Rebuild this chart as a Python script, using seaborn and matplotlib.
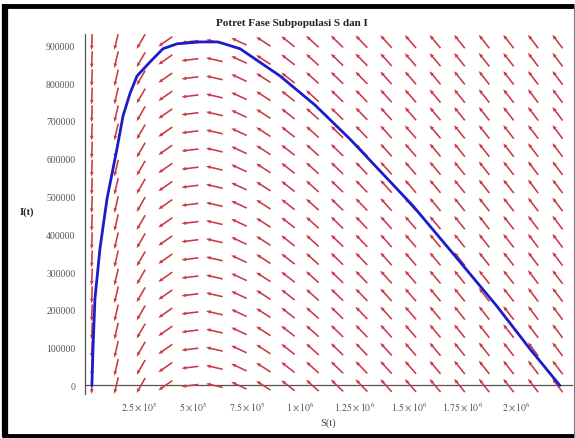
import numpy as np
import pandas as pd
import matplotlib
matplotlib.use("Agg")
import matplotlib.pyplot as plt
from matplotlib.lines import Line2D
import seaborn as sns

# trajectory (S, I)
traj_S = [0.032e6, 0.037e6, 0.046e6, 0.069e6, 0.102e6, 0.125e6, 0.148e6, 0.176e6,
          0.208e6, 0.241e6, 0.301e6, 0.361e6, 0.426e6, 0.532e6, 0.616e6, 0.718e6,
          0.903e6, 1.065e6, 1.227e6, 1.519e6, 1.713e6, 1.907e6, 2.060e6, 2.199e6]
traj_I = [0, 97000, 229000, 361000, 494000, 560000, 626000, 713000,
          772000, 819000, 856000, 891000, 904000, 909000, 909000, 891000,
          819000, 742000, 652000, 475000, 343000, 210000, 97000, 0]

# direction field grid: 20 columns x 20 rows
field_S = [0.032e6, 0.145e6, 0.259e6, 0.372e6, 0.486e6, 0.599e6, 0.713e6, 0.826e6,
           0.940e6, 1.053e6, 1.167e6, 1.280e6, 1.394e6, 1.507e6, 1.621e6, 1.734e6,
           1.848e6, 1.961e6, 2.075e6, 2.188e6]
field_I = [0, 48000, 96000, 144000, 192000, 240000, 287000, 335000, 383000, 431000,
           479000, 527000, 575000, 623000, 671000, 719000, 766000, 814000, 862000, 910000]
# on-screen arrow angle (degrees) for each column, same down each column
col_angle = [268, 257, 240, 215, 187, 167, 155, 147, 142, 138,
             136, 134, 132, 131, 130, 129, 128, 128, 127, 127]

xtick_vals = [2.5e5, 5e5, 7.5e5, 1e6, 1.25e6, 1.5e6, 1.75e6, 2e6]
xtick_labels = [r"$2.5\times10^{5}$", r"$5\times10^{5}$", r"$7.5\times10^{5}$",
                r"$1\times10^{6}$", r"$1.25\times10^{6}$", r"$1.5\times10^{6}$",
                r"$1.75\times10^{6}$", r"$2\times10^{6}$"]
ytick_vals = [0, 100000, 200000, 300000, 400000, 500000, 600000, 700000, 800000, 900000]

sns.set_style("white")
plt.rcParams["font.family"] = ["Liberation Serif", "DejaVu Serif"]
plt.rcParams["mathtext.fontset"] = "stix"

fig = plt.figure(figsize=(5.75, 4.39), dpi=100)
ax = fig.add_axes([85 / 575, 1 - 395 / 439, 487 / 575, 360 / 439])

# arrows
SS, II = np.meshgrid(field_S, field_I)
ang = np.deg2rad(np.tile(col_angle, (len(field_I), 1)))
L = 17
ax.quiver(SS, II, L * np.cos(ang), L * np.sin(ang), angles="uv",
          scale_units="dots", scale=1, units="dots", width=1.6,
          headwidth=2.4, headlength=3, headaxislength=2.7,
          pivot="middle", color="#c93a44", zorder=2)

df = pd.DataFrame({"S": traj_S, "I": traj_I})
sns.lineplot(data=df, x="S", y="I", sort=False, estimator=None, ax=ax,
             color="#1c1cc8", linewidth=2.0, zorder=3)

ax.set_xlim(0, 2.255e6)
ax.set_ylim(-22500, 930000)

for s in ["top", "right"]:
    ax.spines[s].set_visible(False)
ax.spines["left"].set_position(("data", 0))
ax.spines["bottom"].set_position(("data", 0))
for s in ["left", "bottom"]:
    ax.spines[s].set_color("#555555")
    ax.spines[s].set_linewidth(0.9)
    ax.spines[s].set_zorder(1)

ax.set_xticks(xtick_vals)
ax.set_xticklabels(xtick_labels)
ax.set_yticks(ytick_vals)
ax.set_yticklabels([str(v) for v in ytick_vals])
ax.tick_params(axis="both", direction="out", length=4, width=0.8,
               color="#555555", labelcolor="#555555", labelsize=7, pad=3)
ax.tick_params(axis="x", pad=6)
ax.set_xlabel("")
ax.set_ylabel("")

fig.text(328 / 575, 1 - 423 / 439, "S(t)", ha="center", va="center",
         fontsize=7.5, color="#444444")
fig.text(27 / 575, 1 - 212 / 439, "I(t)", ha="center", va="center",
         fontsize=7.5, color="#222222", fontweight="bold")
fig.text(292 / 575, 1 - 23 / 439, "Potret Fase Subpopulasi S dan I", ha="center",
         va="center", fontsize=8, color="#222222", fontweight="bold")

# frame round the picture
frame = dict(transform=fig.transFigure, solid_capstyle="butt")
fig.add_artist(Line2D([5 / 575, 5 / 575], [1 - 438 / 439, 1 - 5 / 439],
                      color="black", linewidth=4.5, **frame))
fig.add_artist(Line2D([2 / 575, 574 / 575], [1 - 7 / 439, 1 - 7 / 439],
                      color="black", linewidth=3.5, **frame))
fig.add_artist(Line2D([2 / 575, 574 / 575], [1 - 437 / 439, 1 - 437 / 439],
                      color="black", linewidth=3.5, **frame))
fig.add_artist(Line2D([573.5 / 575, 573.5 / 575], [1 - 437 / 439, 1 - 7 / 439],
                      color="#777777", linewidth=0.8, **frame))

fig.savefig("out.png", dpi=100)
